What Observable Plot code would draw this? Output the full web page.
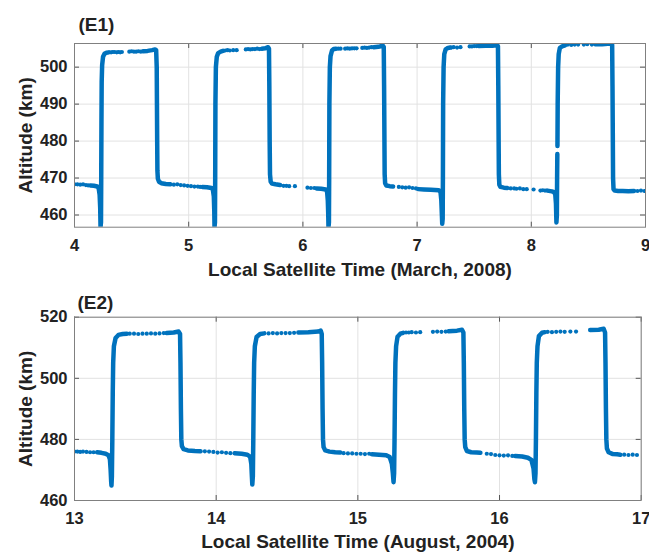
<!DOCTYPE html>
<html>
<head>
<meta charset="utf-8">
<script src="https://cdn.jsdelivr.net/npm/d3@7"></script>
<script src="https://cdn.jsdelivr.net/npm/@observablehq/plot@0.6"></script>
<style>
  body { margin: 0; background: #fff; }
  #chart { width: 649px; }
  #chart svg { display: block; }
</style>
</head>
<body>
<div id="chart"></div>
<script>
// ---- Panel E1: March 2008 ----
const e1Title = "(E1)";
const e1XLabel = "Local Satellite Time (March, 2008)";
const e1XTicks = [4, 5, 6, 7, 8, 9];
const e1YTicks = [460, 470, 480, 490, 500];
const e1XDomain = [4, 9];
const e1YDomain = [456.7, 506.4];

// densely sampled stretches of the orbit (local time h, altitude km)
const e1Trace = [
  [[4.14,468.0],[4.17,467.9],[4.20,467.7],[4.212,467.2],[4.22,465.5],[4.225,462],[4.228,456.7],[4.232,458],[4.234,470],[4.236,485],[4.238,496],[4.242,500.5],[4.25,502.8],[4.262,503.6],[4.28,503.9],[4.30,504.0]],
  [[4.60,504.3],[4.64,504.4],[4.68,504.6],[4.705,504.8],[4.715,504.6],[4.72,500],[4.722,490],[4.724,480],[4.726,472],[4.73,469.8],[4.74,469.0],[4.76,468.6],[4.80,468.4],[4.84,468.3]],
  [[5.12,467.6],[5.16,467.5],[5.20,467.3],[5.212,466.8],[5.22,465],[5.224,461],[5.226,456.7],[5.23,458],[5.232,470],[5.234,490],[5.238,500],[5.246,502.8],[5.258,503.8],[5.28,504.2],[5.30,504.4]],
  [[5.64,505.0],[5.67,505.1],[5.695,505.4],[5.703,505.0],[5.706,495],[5.709,480],[5.712,471],[5.718,469.0],[5.73,468.5],[5.76,468.3],[5.80,468.1]],
  [[6.12,467.2],[6.16,467.1],[6.20,466.9],[6.212,466.3],[6.218,464],[6.222,460],[6.224,456.7],[6.228,458],[6.23,470],[6.232,490],[6.236,500],[6.242,503],[6.255,504.5],[6.27,504.9],[6.29,505.0]],
  [[6.62,505.4],[6.66,505.5],[6.70,505.8],[6.708,505.5],[6.711,495],[6.714,480],[6.716,471],[6.72,468.6],[6.73,468.0],[6.76,467.8],[6.79,467.7]],
  [[7.01,467.0],[7.06,466.9],[7.12,466.8],[7.19,466.7],[7.205,466.2],[7.212,464],[7.217,460],[7.22,457.6],[7.224,459],[7.226,470],[7.228,490],[7.232,500],[7.238,503.5],[7.25,504.8],[7.27,505.2],[7.29,505.3]],
  [[7.54,505.7],[7.60,505.8],[7.66,505.8],[7.70,506.0],[7.708,505.7],[7.711,495],[7.714,480],[7.716,471],[7.72,468.2],[7.73,467.6],[7.76,467.4],[7.79,467.3]],
  [[8.14,466.6],[8.18,466.4],[8.20,466.2],[8.21,465.5],[8.216,463],[8.22,458.0],[8.224,460],[8.226,470],[8.228,476.5]],
  [[8.229,478.7],[8.231,490],[8.235,500],[8.24,503.5],[8.25,505.2],[8.27,505.6],[8.29,505.8]],
  [[8.56,506.2],[8.62,506.2],[8.67,506.3],[8.70,506.4],[8.708,506.0],[8.711,495],[8.714,480],[8.716,470],[8.72,467.0],[8.73,466.6],[8.76,466.5],[8.80,466.5],[8.85,466.4],[8.90,466.5]]
];

// sparsely sampled points between the dense stretches
const e1Dots = [
  [4.00,468.3],[4.025,468.3],[4.05,468.2],[4.075,468.3],[4.10,468.1],[4.12,468.0],
  [4.32,504.0],[4.335,504.1],[4.35,504.1],[4.37,504.0],[4.385,504.1],[4.40,504.0],[4.415,504.1],
  [4.48,504.2],[4.50,504.3],[4.52,504.2],[4.54,504.2],[4.56,504.3],[4.58,504.2],
  [4.87,468.2],[4.90,468.3],[4.93,468.1],[4.96,468.0],[4.99,467.9],[5.02,467.8],[5.05,467.7],[5.08,467.7],[5.10,467.6],
  [5.32,504.5],[5.34,504.6],[5.36,504.5],[5.39,504.6],[5.42,504.6],
  [5.50,504.8],[5.52,504.9],[5.54,504.8],[5.56,504.9],[5.58,504.9],[5.60,505.0],[5.62,504.9],
  [5.83,467.9],[5.855,467.9],[5.88,467.8],[5.93,467.8],
  [6.04,467.4],[6.07,467.3],[6.10,467.3],
  [6.31,505.0],[6.33,505.0],[6.37,505.0],[6.39,505.1],[6.41,505.0],[6.43,505.1],[6.45,505.1],[6.47,505.1],
  [6.52,505.2],[6.54,505.3],[6.56,505.2],[6.58,505.3],[6.60,505.4],
  [6.84,467.6],[6.87,467.5],[6.90,467.4],[6.93,467.5],[6.96,467.3],[6.99,467.2],
  [7.30,505.3],[7.32,505.4],[7.35,505.3],[7.38,505.4],
  [7.46,505.6],[7.48,505.6],[7.50,505.7],[7.52,505.7],
  [7.82,467.2],[7.85,467.2],[7.87,467.1],[7.90,467.2],[7.93,467.0],[7.96,467.0],[8.02,466.9],
  [8.08,466.6],[8.10,466.7],[8.12,466.6],
  [8.30,506.0],[8.32,506.1],[8.35,506.0],[8.38,506.1],[8.41,506.1],[8.46,506.1],[8.49,506.2],[8.53,506.1],
  [8.93,466.5],[8.96,466.6],[8.99,466.5]
];

// ---- Panel E2: August 2004 ----
const e2Title = "(E2)";
const e2XLabel = "Local Satellite Time (August, 2004)";
const e2XTicks = [13, 14, 15, 16, 17];
const e2YTicks = [460, 480, 500, 520];
const e2XDomain = [13, 17];
const e2YDomain = [460, 520];

const e2Trace = [
  [[13.16,475.8],[13.19,475.6],[13.22,475.3],[13.24,474.8],[13.25,473.5],[13.255,470],[13.259,466],[13.261,464.9],[13.264,468],[13.267,480],[13.27,495],[13.273,505],[13.278,510.5],[13.29,513.2],[13.31,514.2],[13.34,514.5],[13.37,514.6]],
  [[13.65,514.8],[13.70,515.0],[13.735,515.3],[13.745,514.5],[13.748,505],[13.751,490],[13.754,480],[13.758,477.8],[13.77,476.8],[13.80,476.4],[13.85,476.2],[13.89,476.1]],
  [[14.13,475.5],[14.18,475.3],[14.22,475.0],[14.24,474.3],[14.248,472],[14.252,468],[14.255,465.2],[14.259,468],[14.262,480],[14.265,495],[14.268,505],[14.273,510.5],[14.285,513.5],[14.31,514.5],[14.34,514.7]],
  [[14.58,515.0],[14.65,515.1],[14.72,515.3],[14.738,515.6],[14.745,514.5],[14.748,505],[14.751,490],[14.754,480],[14.758,477.5],[14.77,476.4],[14.80,476.0],[14.84,475.8],[14.877,475.7]],
  [[15.10,475.1],[15.15,475.0],[15.20,474.8],[15.225,474.2],[15.24,472],[15.247,469],[15.252,466.0],[15.256,469],[15.259,480],[15.262,495],[15.265,505],[15.27,510.5],[15.28,513.6],[15.30,514.6],[15.32,514.9]],
  [[15.64,515.4],[15.70,515.6],[15.735,515.9],[15.745,515.0],[15.748,505],[15.751,490],[15.754,480],[15.758,477.5],[15.77,476.2],[15.80,475.8],[15.84,475.7],[15.865,475.6]],
  [[16.11,474.6],[16.16,474.4],[16.20,474.0],[16.225,473.3],[16.24,470.5],[16.246,467],[16.25,466.0],[16.254,469],[16.257,480],[16.26,495],[16.263,505],[16.268,510.5],[16.278,513.8],[16.30,514.9],[16.32,515.1]],
  [[16.64,515.8],[16.70,515.9],[16.735,516.2],[16.745,515.0],[16.748,505],[16.751,490],[16.754,480],[16.758,477.0],[16.77,475.8],[16.80,475.2],[16.83,475.1],[16.853,475.0]]
];

const e2Dots = [
  [13.00,476.0],[13.02,476.0],[13.04,475.9],[13.06,476.0],[13.085,475.9],[13.11,475.8],[13.135,475.8],
  [13.39,514.6],[13.42,514.6],[13.45,514.5],[13.48,514.6],[13.51,514.6],[13.54,514.7],[13.57,514.6],[13.60,514.7],[13.63,514.8],
  [13.92,476.1],[13.95,476.0],[13.98,475.9],[14.01,475.7],[14.04,475.8],[14.07,475.6],[14.10,475.5],
  [14.37,514.7],[14.40,514.8],[14.43,514.7],[14.46,514.8],[14.49,514.8],[14.52,514.8],[14.55,514.9],
  [14.90,475.5],[14.93,475.4],[14.96,475.4],[14.99,475.3],[15.02,475.3],[15.05,475.2],[15.08,475.3],
  [15.34,515.0],[15.36,515.0],[15.38,515.1],[15.41,515.0],[15.44,515.1],
  [15.53,515.2],[15.56,515.3],[15.59,515.2],[15.62,515.3],
  [15.91,475.3],[15.94,475.2],[15.97,474.9],[16.00,474.8],[16.03,474.7],[16.06,474.8],[16.09,474.6],
  [16.34,515.2],[16.37,515.1],[16.40,515.2],[16.43,515.3],[16.46,515.2],[16.50,515.3],[16.54,515.3],
  [16.88,475.0],[16.91,474.9],[16.94,475.0],[16.97,474.9]
];

const yLabel = "Altitude (km)";
const blue = "#0072BD";
const W = 649;

function panel(o) {
  const traceRows = o.trace.flatMap((seg, i) => seg.map(([t, alt]) => ({t, alt, seg: i})));
  const dotRows = o.dots.map(([t, alt]) => ({t, alt}));
  const innerH = o.height - o.marginTop - o.marginBottom;
  const innerW = W - o.marginLeft - o.marginRight;
  const id = d => d;
  const fmt = d3.format("d");
  return Plot.plot({
    width: W,
    height: o.height,
    marginTop: o.marginTop,
    marginBottom: o.marginBottom,
    marginLeft: o.marginLeft,
    marginRight: o.marginRight,
    style: {fontFamily: "'Liberation Sans', Arial, sans-serif", fontWeight: "bold", color: "#222", background: "#fff", overflow: "visible"},
    x: {domain: o.xDomain},
    y: {domain: o.yDomain},
    marks: [
      Plot.gridX(o.xTicks, {stroke: "#e2e2e2", strokeOpacity: 1}),
      Plot.gridY(o.yTicks, {stroke: "#e2e2e2", strokeOpacity: 1}),
      Plot.line(traceRows, {x: "t", y: "alt", z: "seg", stroke: blue, strokeWidth: 4.5, strokeLinecap: "round", strokeLinejoin: "round", clip: true}),
      Plot.dot(dotRows, {x: "t", y: "alt", r: 2.1, fill: blue, stroke: null, clip: true}),
      // inward ticks on all four sides
      Plot.tickX(o.xTicks, {x: id, insetTop: innerH - 5, stroke: "#555"}),
      Plot.tickX(o.xTicks, {x: id, insetBottom: innerH - 5, stroke: "#555"}),
      Plot.tickY(o.yTicks, {y: id, insetRight: innerW - 5, stroke: "#555"}),
      Plot.tickY(o.yTicks, {y: id, insetLeft: innerW - 5, stroke: "#555"}),
      Plot.frame({stroke: "#808080"}),
      Plot.axisX(o.xTicks, {tickSize: 0, tickPadding: 12, fontSize: 16.5, tickFormat: fmt, label: null}),
      Plot.axisY(o.yTicks, {tickSize: 0, tickPadding: 7, fontSize: 16.5, tickFormat: fmt, label: null}),
      Plot.text([o.xLabel], {text: id, frameAnchor: "bottom", lineAnchor: "middle", textAnchor: "middle", dy: o.xLabelDy, fontSize: 19}),
      Plot.text([yLabel], {text: id, frameAnchor: "left", lineAnchor: "middle", textAnchor: "middle", dx: -49, rotate: -90, fontSize: 19}),
      Plot.text([o.title], {text: id, frameAnchor: "top-left", lineAnchor: "middle", textAnchor: "start", dx: o.titleDx, dy: o.titleDy, fontSize: 19})
    ]
  });
}

const chart = document.getElementById("chart");
chart.append(panel({
  title: e1Title, xLabel: e1XLabel, xTicks: e1XTicks, yTicks: e1YTicks,
  xDomain: e1XDomain, yDomain: e1YDomain, trace: e1Trace, dots: e1Dots,
  height: 280, marginTop: 43, marginBottom: 53.3, marginLeft: 74, marginRight: 4,
  titleDx: 4, titleDy: -18.5, xLabelDy: 43
}));
chart.append(panel({
  title: e2Title, xLabel: e2XLabel, xTicks: e2XTicks, yTicks: e2YTicks,
  xDomain: e2XDomain, yDomain: e2YDomain, trace: e2Trace, dots: e2Dots,
  height: 273, marginTop: 36.7, marginBottom: 53, marginLeft: 74, marginRight: 8.3,
  titleDx: 3, titleDy: -14.7, xLabelDy: 41.5
}));
</script>
</body>
</html>
